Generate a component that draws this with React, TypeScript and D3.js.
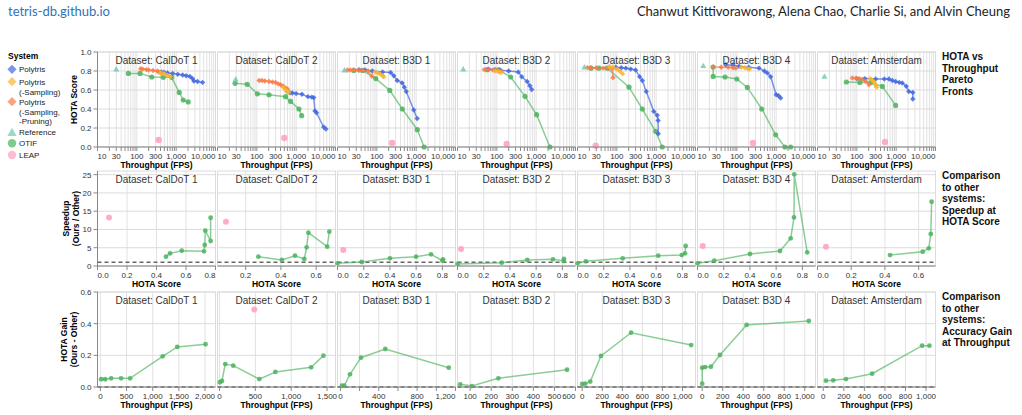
import React from "react";
import * as d3 from "d3";

// ---- data ----
const datasets = ["CalDoT 1", "CalDoT 2", "B3D 1", "B3D 2", "B3D 3", "B3D 4", "Amsterdam"];

// Pareto fronts: [throughput fps, HOTA]
const polytrisFronts: [number, number][][] = [
  [[420, 0.79], [490, 0.787], [600, 0.78], [815, 0.775], [1100, 0.765], [1460, 0.758], [1800, 0.75], [2230, 0.743], [2600, 0.72], [2820, 0.695], [3500, 0.69], [4700, 0.68]],
  [[600, 0.585], [700, 0.57], [800, 0.568], [1000, 0.562], [1400, 0.555], [2000, 0.53], [2500, 0.525], [2800, 0.52], [3000, 0.38], [3300, 0.36], [5000, 0.21], [5700, 0.19]],
  [[35, 0.814], [50, 0.812], [77, 0.8], [140, 0.79], [225, 0.785], [270, 0.75], [330, 0.7], [440, 0.675], [500, 0.63], [560, 0.585], [870, 0.39], [1060, 0.3]],
  [[61, 0.82], [90, 0.815], [120, 0.81], [200, 0.8], [350, 0.79], [430, 0.74], [590, 0.69], [690, 0.645], [770, 0.605]],
  [[94, 0.84], [130, 0.835], [170, 0.83], [225, 0.82], [300, 0.81], [380, 0.74], [444, 0.7], [560, 0.585], [870, 0.375], [1060, 0.335], [1120, 0.28], [1130, 0.14]],
  [[52, 0.866], [80, 0.86], [114, 0.85], [200, 0.84], [366, 0.83], [500, 0.8], [594, 0.78], [724, 0.74], [1000, 0.55], [1150, 0.54], [1300, 0.516]],
  [[100, 0.72], [160, 0.72], [300, 0.716], [500, 0.716], [656, 0.716], [800, 0.7], [970, 0.69], [1200, 0.68], [1430, 0.674], [1800, 0.64], [2100, 0.585], [2650, 0.575], [2650, 0.505]],
];
const noSamplingFronts: [number, number][][] = [
  [[400, 0.78], [500, 0.77], [600, 0.755], [700, 0.74]],
  [[470, 0.63], [540, 0.6], [600, 0.585], [650, 0.575]],
  [[90, 0.79], [105, 0.78], [120, 0.77], [140, 0.75], [150, 0.74]],
  [[90, 0.8], [110, 0.795], [125, 0.785]],
  [[65, 0.845], [80, 0.84], [100, 0.82], [120, 0.8], [140, 0.77]],
  [[130, 0.84], [160, 0.835], [190, 0.825], [210, 0.82]],
  [[220, 0.72], [250, 0.7], [280, 0.68], [300, 0.65], [320, 0.63]],
];
const noPruningFronts: [number, number][][] = [
  [[125, 0.823], [140, 0.82], [175, 0.815], [200, 0.81], [260, 0.805], [330, 0.8], [360, 0.79], [420, 0.785], [480, 0.78]],
  [[114, 0.7], [135, 0.7], [160, 0.695], [204, 0.69], [250, 0.685], [300, 0.68], [350, 0.665], [405, 0.655], [470, 0.64], [540, 0.62], [600, 0.61]],
  [[18, 0.81], [21, 0.81], [25, 0.81], [35, 0.805], [45, 0.805], [60, 0.8], [75, 0.745]],
  [[48, 0.815], [60, 0.815], [80, 0.81], [100, 0.81], [130, 0.8]],
  [[18, 0.836], [22, 0.835], [30, 0.835], [45, 0.83], [60, 0.83], [77, 0.825], [80, 0.73]],
  [[25, 0.842], [40, 0.84], [60, 0.84], [80, 0.835], [94, 0.83]],
  [[77, 0.726], [95, 0.725], [115, 0.72], [140, 0.71], [170, 0.69], [204, 0.656]],
];
const referencePoints: [number, number][] = [[30, 0.82], [29, 0.715], [15, 0.81], [14, 0.82], [15, 0.842], [14, 0.856], [15, 0.743]];
const otifFronts: [number, number][][] = [
  [[61, 0.775], [121, 0.775], [239, 0.737], [470, 0.733], [767, 0.733], [1197, 0.575], [1511, 0.495], [2024, 0.474]],
  [[28, 0.67], [57, 0.66], [103, 0.56], [204, 0.55], [540, 0.53], [720, 0.48], [1175, 0.4], [1380, 0.33]],
  [[26, 0.806], [43, 0.806], [94, 0.72], [213, 0.596], [444, 0.4], [1070, 0.182], [1590, 0.0]],
  [[57, 0.814], [110, 0.812], [225, 0.737], [520, 0.533], [1025, 0.34], [2240, 0.0]],
  [[22, 0.83], [35, 0.83], [57, 0.83], [204, 0.63], [444, 0.4], [970, 0.165], [1426, 0.0]],
  [[25, 0.842], [25, 0.743], [50, 0.737], [100, 0.716], [185, 0.627], [430, 0.4], [970, 0.129], [1670, 0.0], [2330, 0.0]],
  [[54, 0.684], [119, 0.68], [230, 0.68], [444, 0.638], [970, 0.438]],
];
const leapPoints: [number, number][] = [[360, 0.075], [500, 0.095], [245, 0.042], [178, 0.032], [29, 0.014], [257, 0.042], [520, 0.053]];

// Speedup at HOTA score: [HOTA, speedup]
const otifSpeedup: [number, number][][] = [
  [[0.464, 2.55], [0.492, 3.47], [0.571, 4.19], [0.722, 4.02], [0.727, 5.75], [0.731, 9.66], [0.767, 6.84], [0.767, 13.2]],
  [[0.272, 2.55], [0.405, 1.64], [0.48, 2.82], [0.533, 1.92], [0.546, 5.12], [0.556, 9.11], [0.663, 5.28], [0.675, 9.39]],
  [[0.0, 0.74], [0.185, 1.09], [0.4, 2.1], [0.599, 2.55], [0.713, 3.2], [0.8, 1.45], [0.805, 1.83]],
  [[0.0, 0.55], [0.337, 0.9], [0.532, 1.64], [0.728, 1.83], [0.81, 1.37], [0.812, 1.92]],
  [[0.0, 0.74], [0.063, 1.29], [0.345, 2.1], [0.616, 2.82], [0.795, 3.0], [0.82, 3.47], [0.825, 5.47]],
  [[0.0, 0.74], [0.128, 1.45], [0.4, 3.28], [0.629, 4.1], [0.711, 7.58], [0.736, 13.3], [0.738, 25.1], [0.837, 3.75]],
  [[0.43, 3.0], [0.624, 3.9], [0.66, 4.84], [0.672, 8.76], [0.677, 17.6]],
];
const leapSpeedup: ([number, number] | null)[] = [[0.078, 13.3], [0.088, 12.1], [0.044, 4.38], [0.027, 4.65], null, [0.04, 5.47], [0.05, 5.28]];

// HOTA gain at throughput: [fps, gain]
const otifGain: [number, number][][] = [
  [[15, 0.049], [92, 0.049], [206, 0.055], [396, 0.055], [568, 0.055], [1190, 0.194], [1469, 0.253], [2010, 0.27]],
  [[6, 0.03], [34, 0.038], [80, 0.145], [192, 0.135], [555, 0.05], [779, 0.095], [1278, 0.124], [1450, 0.198]],
  [[16, 0.008], [40, 0.008], [100, 0.08], [214, 0.185], [468, 0.24], [1130, 0.122]],
  [[53, 0.017], [108, 0.006], [234, 0.055], [560, 0.109]],
  [[0, 0.019], [30, 0.021], [80, 0.034], [187, 0.196], [487, 0.343], [1087, 0.265]],
  [[0, 0.021], [0, 0.122], [29, 0.126], [85, 0.128], [173, 0.202], [433, 0.392], [1040, 0.417]],
  [[26, 0.04], [97, 0.042], [221, 0.05], [475, 0.084], [962, 0.261], [1033, 0.261]],
];
const leapGain: ([number, number] | null)[] = [null, [485, 0.49], null, null, null, null, null];

// axis domains and ticks
const throughputLabels = [10, 30, 100, 300, 1000, 10000];
const hotaYTicks = [0, 0.2, 0.4, 0.6, 0.8, 1.0];
const speedupYTicks = [0, 5, 10, 15, 20, 25];
const gainYTicks = [0, 0.2, 0.4, 0.6];
const speedupXDomains: [number, number][] = [[0, 0.8], [0.04, 0.71], [0, 0.9], [0, 0.9], [0, 0.9], [0, 0.9], [0, 0.7]];
const speedupXTicks = [
  [0, 0.2, 0.4, 0.6, 0.8], [0.2, 0.4, 0.6], [0, 0.2, 0.4, 0.6, 0.8], [0, 0.2, 0.4, 0.6, 0.8],
  [0, 0.2, 0.4, 0.6, 0.8], [0, 0.2, 0.4, 0.6, 0.8], [0, 0.2, 0.4, 0.6],
];
const gainXDomains: [number, number][] = [[-55, 2200], [-28, 1618], [-30, 1200], [40, 600], [-47, 1130], [-46, 1105], [-56, 1092]];
const gainXTicks = [
  [0, 500, 1000, 1500, 2000], [0, 500, 1000, 1500], [0, 200, 400, 600, 800, 1000, 1200], [100, 200, 300, 400, 500, 600],
  [0, 200, 400, 600, 800, 1000], [0, 200, 400, 600, 800, 1000], [0, 200, 400, 600, 800, 1000],
];
const gainXLabels = [
  [0, 500, 1000, 1500, 2000], [0, 500, 1000, 1500], [0, 400, 800, 1200], [100, 200, 300, 400, 500, 600],
  [0, 200, 400, 600, 800, 1000], [0, 200, 400, 600, 800, 1000], [0, 200, 400, 600, 800, 1000],
];

const legendItems = [
  { label: ["Polytris"], color: "#4169e1", shape: "diamond" },
  { label: ["Polytris", "(-Sampling)"], color: "#f6b530", shape: "diamond" },
  { label: ["Polytris", "(-Sampling,", "-Pruning)"], color: "#fa7a48", shape: "diamond" },
  { label: ["Reference"], color: "#73c9b0", shape: "triangle" },
  { label: ["OTIF"], color: "#4cb35e", shape: "circle" },
  { label: ["LEAP"], color: "#ff9ec2", shape: "circle" },
];
const rowTitles = [
  ["HOTA vs", "Throughput", "Pareto", "Fronts"],
  ["Comparison", "to other", "systems:", "Speedup at", "HOTA Score"],
  ["Comparison", "to other", "systems:", "Accuracy Gain", "at Throughput"],
];

const C_BLUE = legendItems[0].color;
const C_AMBER = legendItems[1].color;
const C_CORAL = legendItems[2].color;
const C_REF = legendItems[3].color;
const C_GREEN = legendItems[4].color;
const C_PINK = legendItems[5].color;

// ---- layout ----
const W = 1022;
const H = 415;
const PANEL_LEFT = 97.5;
const PANEL_STEP = 120;
const PW = 118;
const PH = 95;
const ROW_TOP = [52, 171, 292];
const FONT = "'Liberation Sans', Arial, Helvetica, sans-serif";

const diamond = (r: number) => `M${-r},0L0,${-r}L${r},0L0,${r}Z`;
const triangle = (r: number) => `M0,${-r}L${r},${r * 0.8}L${-r},${r * 0.8}Z`;
const fmtComma = d3.format(",");
const fmt1 = d3.format(".1f");
const anchorFor = (px: number) => (px <= 1 ? "start" : px >= PW - 1 ? "end" : "middle");

const Series = ({ data, x, y, color, shape, r, lineOpacity = 0.7 }: any) => {
  const line = d3.line<[number, number]>().x((d) => x(d[0])).y((d) => y(d[1]));
  return (
    <g>
      {data.length > 1 && (
        <path d={line(data) || ""} fill="none" stroke={color} strokeWidth={1.5} strokeOpacity={lineOpacity} />
      )}
      {data.map((d: [number, number], i: number) =>
        shape === "circle" ? (
          <circle key={i} cx={x(d[0])} cy={y(d[1])} r={r} fill={color} fillOpacity={0.85} />
        ) : (
          <path
            key={i}
            transform={`translate(${x(d[0])},${y(d[1])})`}
            d={shape === "diamond" ? diamond(r) : triangle(r)}
            fill={color}
            fillOpacity={0.85}
          />
        )
      )}
    </g>
  );
};

const Panel = ({ col, row, x, y, xGrid, xTicks, xLabels, fmtX, yTicks, fmtY, xTitle, yTitle, refY, children }: any) => {
  const left = PANEL_LEFT + PANEL_STEP * col;
  const top = ROW_TOP[row];
  return (
    <g transform={`translate(${left},${top})`}>
      {xGrid.map((v: number, i: number) => (
        <line key={"gx" + i} x1={x(v)} x2={x(v)} y1={0} y2={PH} stroke="#e2e2e2" strokeWidth={1} />
      ))}
      {yTicks.map((v: number, i: number) => (
        <line key={"gy" + i} x1={0} x2={PW} y1={y(v)} y2={y(v)} stroke="#dcdcdc" strokeWidth={1} />
      ))}
      <rect width={PW} height={PH} fill="none" stroke="#dcdcdc" />
      {refY != null && (
        <line x1={0} x2={PW} y1={y(refY)} y2={y(refY)} stroke="#666" strokeWidth={1.5} strokeDasharray="4,3" />
      )}
      {children}
      <line x1={0} x2={PW} y1={PH} y2={PH} stroke="#888" />
      {xTicks.map((v: number, i: number) => (
        <line key={"tx" + i} x1={x(v)} x2={x(v)} y1={PH} y2={PH + 4} stroke="#888" />
      ))}
      {xLabels.map((v: number, i: number) => {
        const px = x(v);
        return (
          <text key={"lx" + i} x={px} y={PH + 11.5} textAnchor={anchorFor(px)} fontSize={8} fill="#333">
            {fmtX(v)}
          </text>
        );
      })}
      <text x={PW / 2} y={PH + 21} textAnchor="middle" fontSize={8.5} fontWeight="bold" fill="#000">
        {xTitle}
      </text>
      <text x={PW / 2} y={11.5} textAnchor="middle" fontSize={10} fill="#333">
        Dataset: {datasets[col]}
      </text>
      {col === 0 && (
        <g>
          <line x1={0} x2={0} y1={0} y2={PH} stroke="#888" />
          {yTicks.map((v: number, i: number) => (
            <g key={"ty" + i}>
              <line x1={-4} x2={0} y1={y(v)} y2={y(v)} stroke="#888" />
              <text x={-6} y={y(v) + 3} textAnchor="end" fontSize={8} fill="#333">
                {fmtY(v)}
              </text>
            </g>
          ))}
          {yTitle.map((t: string, i: number) => (
            <text
              key={"yt" + i}
              transform={`translate(${yTitle.length === 1 ? -20.5 : (row === 1 ? -28.5 : -30.5) + i * 9.7},${PH / 2}) rotate(-90)`}
              textAnchor="middle"
              fontSize={8.5}
              fontWeight="bold"
            >
              {t}
            </text>
          ))}
        </g>
      )}
    </g>
  );
};

const Legend = () => {
  const symY = [69.3, 81.7, 101.7, 132.3, 143.3, 155];
  return (
    <g>
      <text x={8} y={59} fontSize={8.5} fontWeight="bold">System</text>
      {legendItems.map((it, i) => (
        <g key={i}>
          {it.shape === "circle" ? (
            <circle cx={12} cy={symY[i]} r={4.2} fill={it.color} fillOpacity={0.7} />
          ) : (
            <path
              transform={`translate(12,${symY[i]})`}
              d={it.shape === "diamond" ? diamond(4.6) : triangle(4.6)}
              fill={it.color}
              fillOpacity={0.7}
            />
          )}
          {it.label.map((t, j) => (
            <text key={j} x={19} y={symY[i] + 3 + j * 9.8} fontSize={8} fill="#222">
              {t}
            </text>
          ))}
        </g>
      ))}
    </g>
  );
};

export default function App() {
  const xLog = d3.scaleLog().domain([10, 10000]).range([0, PW]);
  const yHota = d3.scaleLinear().domain([0, 1]).range([PH, 0]);
  const ySpeed = d3.scaleLinear().domain([0, 26]).range([PH, 0]);
  const yGain = d3.scaleLinear().domain([0, 0.6]).range([PH, 0]);

  const logGrid: number[] = [];
  for (let e = 1; e <= 3; e++) for (let m = 1; m <= 9; m++) logGrid.push(m * Math.pow(10, e));
  logGrid.push(10000);

  return (
    <svg
      width={W}
      height={H}
      style={{ position: "absolute", left: 0, top: 0, background: "#fff", fontFamily: FONT }}
    >
      <text x={8} y={16} fontSize={13} fill="#2f72b8" fontFamily="Lato, 'Open Sans', sans-serif">
        tetris-db.github.io
      </text>
      <text x={1010} y={16} fontSize={13} fill="#222" textAnchor="end" fontFamily="Lato, 'Open Sans', sans-serif">
        Chanwut Kittivorawong, Alena Chao, Charlie Si, and Alvin Cheung
      </text>

      <Legend />

      {datasets.map((ds, c) => (
        <Panel
          key={"r0" + ds}
          col={c}
          row={0}
          x={xLog}
          y={yHota}
          xGrid={logGrid}
          xTicks={logGrid}
          xLabels={throughputLabels}
          fmtX={fmtComma}
          yTicks={hotaYTicks}
          fmtY={fmt1}
          xTitle="Throughput (FPS)"
          yTitle={["HOTA Score"]}
        >
          <Series data={otifFronts[c]} x={xLog} y={yHota} color={C_GREEN} shape="circle" r={2.6} lineOpacity={0.65} />
          <Series data={polytrisFronts[c]} x={xLog} y={yHota} color={C_BLUE} shape="diamond" r={2.7} />
          <Series data={noPruningFronts[c]} x={xLog} y={yHota} color={C_CORAL} shape="diamond" r={2.7} />
          <Series data={noSamplingFronts[c]} x={xLog} y={yHota} color={C_AMBER} shape="diamond" r={2.7} />
          <Series data={[referencePoints[c]]} x={xLog} y={yHota} color={C_REF} shape="triangle" r={3} />
          <Series data={[leapPoints[c]]} x={xLog} y={yHota} color={C_PINK} shape="circle" r={3.2} />
        </Panel>
      ))}

      {datasets.map((ds, c) => {
        const x = d3.scaleLinear().domain(speedupXDomains[c]).range([0, PW]);
        const leap = leapSpeedup[c];
        return (
          <Panel
            key={"r1" + ds}
            col={c}
            row={1}
            x={x}
            y={ySpeed}
            xGrid={speedupXTicks[c]}
            xTicks={speedupXTicks[c]}
            xLabels={speedupXTicks[c]}
            fmtX={fmt1}
            yTicks={speedupYTicks}
            fmtY={d3.format("d")}
            xTitle="HOTA Score"
            yTitle={["Speedup", "(Ours / Other)"]}
            refY={1}
          >
            <Series data={otifSpeedup[c]} x={x} y={ySpeed} color={C_GREEN} shape="circle" r={2.4} lineOpacity={0.65} />
            {leap && <Series data={[leap]} x={x} y={ySpeed} color={C_PINK} shape="circle" r={3} />}
          </Panel>
        );
      })}

      {datasets.map((ds, c) => {
        const x = d3.scaleLinear().domain(gainXDomains[c]).range([0, PW]);
        const leap = leapGain[c];
        return (
          <Panel
            key={"r2" + ds}
            col={c}
            row={2}
            x={x}
            y={yGain}
            xGrid={gainXTicks[c]}
            xTicks={gainXTicks[c]}
            xLabels={gainXLabels[c]}
            fmtX={fmtComma}
            yTicks={gainYTicks}
            fmtY={fmt1}
            xTitle="Throughput (FPS)"
            yTitle={["HOTA Gain", "(Ours - Other)"]}
            refY={0}
          >
            <Series data={otifGain[c]} x={x} y={yGain} color={C_GREEN} shape="circle" r={2.4} lineOpacity={0.65} />
            {leap && <Series data={[leap]} x={x} y={yGain} color={C_PINK} shape="circle" r={3} />}
          </Panel>
        );
      })}

      {rowTitles.map((lines, r) =>
        lines.map((t, j) => (
          <text key={r + "-" + j} x={942} y={ROW_TOP[r] + 8 + j * 11.6} fontSize={10} fontWeight="bold" fill="#111">
            {t}
          </text>
        ))
      )}
    </svg>
  );
}
